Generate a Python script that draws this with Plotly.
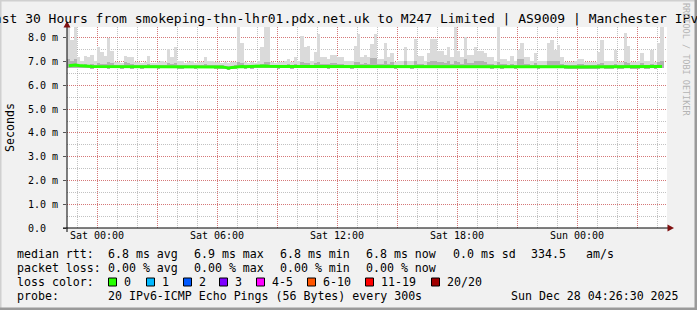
import plotly.graph_objects as go
import pandas as pd

# ---------------- data ----------------
start_time = "2025-12-26 22:30:00"
end_time = "2025-12-28 04:30:00"
step_minutes = 10

median_rtt = [
    6.83, 6.85, 6.86, 6.84, 6.82, 6.80, 6.81, 6.80, 6.80, 6.80,
    6.81, 6.80, 6.80, 6.79, 6.80, 6.80, 6.80, 6.81, 6.80, 6.79,
    6.80, 6.80, 6.79, 6.80, 6.81, 6.80, 6.80, 6.79, 6.80, 6.80,
    6.81, 6.80, 6.80, 6.80, 6.79, 6.80, 6.80, 6.80, 6.79, 6.80,
    6.80, 6.81, 6.80, 6.80, 6.79, 6.79, 6.78, 6.76, 6.73, 6.76,
    6.78, 6.80, 6.80, 6.79, 6.80, 6.79, 6.80, 6.80, 6.81, 6.82,
    6.81, 6.80, 6.80, 6.79, 6.80, 6.80, 6.80, 6.79, 6.80, 6.81,
    6.82, 6.81, 6.80, 6.80, 6.80, 6.81, 6.80, 6.80, 6.79, 6.80,
    6.80, 6.81, 6.80, 6.80, 6.80, 6.79, 6.80, 6.82, 6.80, 6.80,
    6.80, 6.81, 6.82, 6.80, 6.80, 6.81, 6.80, 6.80, 6.79, 6.80,
    6.80, 6.81, 6.80, 6.79, 6.81, 6.80, 6.80, 6.80, 6.80, 6.81,
    6.82, 6.81, 6.80, 6.80, 6.81, 6.80, 6.82, 6.81, 6.80, 6.81,
    6.80, 6.80, 6.81, 6.81, 6.80, 6.80, 6.80, 6.79, 6.80, 6.80,
    6.79, 6.80, 6.80, 6.80, 6.79, 6.80, 6.81, 6.80, 6.80, 6.80,
    6.80, 6.79, 6.80, 6.80, 6.81, 6.81, 6.80, 6.80, 6.80, 6.79,
    6.78, 6.78, 6.77, 6.78, 6.78, 6.78, 6.79, 6.78, 6.79, 6.79,
    6.80, 6.79, 6.79, 6.79, 6.80, 6.79, 6.79, 6.80, 6.80, 6.79,
    6.79, 6.79, 6.80, 6.79, 6.79, 6.80, 6.79, 6.80, 6.80,
]

smoke_max = [
    8.60, 7.90, 8.60, 7.20, 7.05, 7.25, 7.20, 7.30, 7.05, 7.60,
    7.40, 7.25, 8.00, 7.45, 7.00, 7.00, 6.95, 7.25, 7.20, 7.20,
    7.00, 7.00, 6.95, 7.00, 7.25, 6.95, 6.95, 7.00, 7.05, 7.00,
    7.55, 7.20, 7.60, 7.05, 7.05, 6.95, 7.00, 7.05, 6.95, 7.00,
    7.00, 7.20, 7.05, 7.05, 7.00, 7.00, 6.95, 7.00, 6.95, 7.00,
    7.00, 8.60, 7.80, 7.00, 6.95, 7.00, 6.95, 7.05, 7.60, 8.60,
    8.60, 7.00, 6.95, 7.00, 7.00, 7.05, 7.10, 7.00, 7.20, 7.05,
    8.10, 7.60, 7.65, 7.05, 7.40, 8.15, 7.20, 7.20, 7.10, 7.30,
    7.30, 7.20, 7.20, 7.05, 7.05, 7.05, 7.67, 8.15, 7.20, 7.30,
    7.20, 7.75, 8.17, 7.10, 7.10, 7.80, 7.20, 7.35, 7.00, 7.05,
    7.05, 7.60, 7.05, 7.05, 7.96, 7.25, 7.25, 7.05, 7.35, 7.95,
    7.95, 7.45, 7.45, 7.30, 7.60, 7.20, 8.60, 7.45, 7.20, 8.05,
    7.30, 7.30, 7.60, 7.45, 7.45, 7.35, 7.20, 7.20, 7.05, 8.60,
    7.10, 7.10, 7.05, 7.25, 7.05, 7.50, 7.78, 7.20, 7.20, 7.05,
    7.35, 7.05, 7.05, 7.05, 7.78, 7.90, 7.50, 7.70, 7.20, 7.00,
    7.00, 7.00, 7.05, 7.10, 7.10, 7.00, 7.00, 7.00, 7.00, 7.42,
    7.90, 7.05, 7.05, 7.05, 7.50, 7.00, 7.00, 8.20, 7.65, 7.00,
    7.00, 7.05, 7.35, 7.05, 7.05, 7.50, 7.00, 7.78, 8.60,
]

smoke_inner = [
    7.10, 7.05, 7.10, 6.92, 6.88, 6.92, 6.88, 6.92, 6.87, 6.95,
    6.92, 6.90, 7.00, 6.95, 6.87, 6.87, 6.86, 6.98, 6.95, 6.92,
    6.87, 6.87, 6.86, 6.87, 6.92, 6.86, 6.86, 6.87, 6.88, 6.87,
    6.95, 6.90, 6.95, 6.88, 6.87, 6.86, 6.87, 6.88, 6.86, 6.87,
    6.87, 6.92, 6.88, 6.88, 6.87, 6.86, 6.85, 6.83, 6.80, 6.83,
    6.86, 7.00, 6.95, 6.86, 6.86, 6.86, 6.86, 6.88, 6.92, 7.00,
    7.00, 6.87, 6.86, 6.86, 6.87, 6.88, 6.90, 6.87, 6.92, 6.88,
    6.97, 6.95, 6.95, 6.88, 6.95, 7.00, 6.92, 6.92, 6.90, 6.95,
    6.95, 6.92, 6.92, 6.88, 6.88, 6.87, 7.00, 7.00, 6.92, 6.95,
    6.92, 7.15, 7.15, 6.92, 6.92, 7.05, 6.92, 6.98, 6.87, 6.88,
    6.88, 7.05, 6.88, 6.88, 7.05, 6.92, 6.92, 6.88, 6.98, 7.05,
    7.05, 6.98, 6.98, 6.95, 7.05, 6.92, 7.05, 6.98, 6.92, 7.10,
    6.95, 6.95, 7.05, 7.05, 7.05, 6.98, 6.92, 6.92, 6.88, 7.00,
    6.90, 6.90, 6.88, 6.92, 6.88, 7.10, 7.10, 6.92, 6.92, 6.88,
    6.95, 6.88, 6.88, 6.88, 7.05, 7.05, 7.05, 7.05, 6.92, 6.87,
    6.86, 6.86, 6.87, 6.90, 6.90, 6.86, 6.86, 6.86, 6.86, 6.92,
    6.95, 6.87, 6.87, 6.87, 6.92, 6.86, 6.86, 7.00, 6.95, 6.86,
    6.86, 6.87, 6.95, 6.87, 6.87, 6.92, 6.86, 6.98, 7.05,
]

smoke_min = [
    6.74, 6.74, 6.75, 6.73, 6.72, 6.72, 6.72, 6.71, 6.72, 6.72,
    6.72, 6.72, 6.71, 6.72, 6.72, 6.72, 6.71, 6.72, 6.72, 6.71,
    6.72, 6.72, 6.71, 6.72, 6.72, 6.72, 6.72, 6.71, 6.72, 6.72,
    6.72, 6.72, 6.72, 6.71, 6.71, 6.72, 6.72, 6.72, 6.71, 6.72,
    6.72, 6.72, 6.72, 6.72, 6.71, 6.71, 6.70, 6.68, 6.66, 6.68,
    6.70, 6.72, 6.72, 6.71, 6.72, 6.71, 6.72, 6.72, 6.72, 6.73,
    6.72, 6.72, 6.72, 6.71, 6.72, 6.72, 6.72, 6.71, 6.72, 6.72,
    6.73, 6.72, 6.72, 6.72, 6.72, 6.72, 6.72, 6.72, 6.71, 6.72,
    6.72, 6.72, 6.72, 6.72, 6.72, 6.71, 6.72, 6.73, 6.72, 6.72,
    6.72, 6.72, 6.73, 6.72, 6.72, 6.72, 6.72, 6.72, 6.71, 6.72,
    6.72, 6.72, 6.72, 6.71, 6.72, 6.72, 6.72, 6.72, 6.72, 6.72,
    6.73, 6.72, 6.72, 6.72, 6.72, 6.72, 6.73, 6.72, 6.72, 6.72,
    6.72, 6.72, 6.72, 6.72, 6.72, 6.72, 6.72, 6.71, 6.72, 6.72,
    6.71, 6.72, 6.72, 6.72, 6.71, 6.72, 6.72, 6.72, 6.72, 6.72,
    6.72, 6.71, 6.72, 6.72, 6.72, 6.72, 6.72, 6.72, 6.72, 6.71,
    6.70, 6.70, 6.69, 6.70, 6.70, 6.70, 6.71, 6.70, 6.71, 6.71,
    6.72, 6.71, 6.71, 6.71, 6.72, 6.71, 6.71, 6.72, 6.72, 6.71,
    6.71, 6.71, 6.72, 6.71, 6.71, 6.72, 6.71, 6.72, 6.72,
]

y_tick_values = [0, 1, 2, 3, 4, 5, 6, 7, 8]
y_tick_labels = ["0.0\u00a0\u00a0", "1.0 m", "2.0 m", "3.0 m", "4.0 m",
                 "5.0 m", "6.0 m", "7.0 m", "8.0 m"]
x_tick_values = ["2025-12-27 00:00", "2025-12-27 03:00", "2025-12-27 06:00",
                 "2025-12-27 09:00", "2025-12-27 12:00", "2025-12-27 15:00",
                 "2025-12-27 18:00", "2025-12-27 21:00", "2025-12-28 00:00",
                 "2025-12-28 03:00"]
x_tick_labels = ["Sat 00:00", "", "Sat 06:00", "", "Sat 12:00", "",
                 "Sat 18:00", "", "Sun 00:00", ""]
y_max = 8.46

title_text = "Last 30 Hours from smokeping-thn-lhr01.pdx.net.uk to M247 Limited | AS9009 | Manchester IPv6"
loss_labels = ["0", "1", "2", "3", "4-5", "6-10", "11-19", "20/20"]
loss_colors = ["#26ff00", "#00b8ff", "#0059ff", "#7e00ff", "#ff00ff",
               "#ff5500", "#ff0000", "#a10000"]

assert len(median_rtt) == len(smoke_max) == len(smoke_inner) == len(smoke_min)

# ---------------- figure ----------------
n = len(median_rtt)
t0 = pd.Timestamp(start_time)
times = [t0 + pd.Timedelta(minutes=step_minutes * i + step_minutes / 2) for i in range(n)]
bar_w = step_minutes * 60 * 1000

MONO = "DejaVu Sans Mono"
L, R, T, B = 67, 667, 27, 228
W, H = R - L, B - T


def fx(px):
    return (px - L) / W


def fy(py):
    return (B - py) / H


fig = go.Figure()
fig.add_trace(go.Bar(x=times, y=[a - b for a, b in zip(smoke_max, smoke_min)],
                     base=smoke_min, width=bar_w,
                     marker=dict(color="#dadada", line=dict(width=0)),
                     hoverinfo="skip"))
fig.add_trace(go.Bar(x=times, y=[a - b for a, b in zip(smoke_inner, smoke_min)],
                     base=smoke_min, width=bar_w,
                     marker=dict(color="#b3b3b3", line=dict(width=0)),
                     hoverinfo="skip"))
fig.add_trace(go.Scatter(x=times, y=median_rtt, mode="lines",
                         line=dict(color="#26ff00", width=3), hoverinfo="skip"))

major_grid = "rgba(230,60,60,0.55)"
minor_grid = "rgba(120,120,120,0.45)"

fig.update_layout(
    width=697, height=310,
    margin=dict(l=L, r=697 - R, t=T, b=310 - B, autoexpand=False),
    paper_bgcolor="#f1f1f1", plot_bgcolor="#ffffff",
    showlegend=False, barmode="overlay", bargap=0,
    font=dict(family=MONO, color="#000000"),
    xaxis=dict(type="date", range=[start_time, end_time],
               tickvals=x_tick_values, ticktext=x_tick_labels,
               showgrid=True, gridcolor=major_grid, griddash="1px,1px", gridwidth=1,
               minor=dict(dtick=3600000, tick0="2025-12-27 00:00", showgrid=True,
                          gridcolor=minor_grid, griddash="1px,1px", gridwidth=1),
               zeroline=False, showline=False, ticks="",
               tickfont=dict(family=MONO, size=10, color="#000000"),
               tickangle=0, fixedrange=True),
    yaxis=dict(range=[0, y_max], tickvals=y_tick_values, ticktext=y_tick_labels,
               showgrid=True, gridcolor=major_grid, griddash="1px,1px", gridwidth=1,
               minor=dict(dtick=0.5, tick0=0, showgrid=True,
                          gridcolor=minor_grid, griddash="1px,1px", gridwidth=1),
               zeroline=False, showline=False, ticks="outside", ticklen=3,
               tickcolor="#555555", ticklabelstandoff=3,
               tickfont=dict(family=MONO, size=10, color="#000000"), fixedrange=True),
)

shapes = []
# axis lines
shapes.append(dict(type="line", xref="paper", yref="paper",
                   x0=fx(63), x1=fx(668), y0=fy(228), y1=fy(228),
                   line=dict(color="#000000", width=1)))
shapes.append(dict(type="line", xref="paper", yref="paper",
                   x0=fx(67), x1=fx(67), y0=fy(232), y1=fy(27),
                   line=dict(color="#000000", width=1)))
# arrows
shapes.append(dict(type="path", xref="paper", yref="paper",
                   path="M %f %f L %f %f L %f %f Z" % (fx(63.5), fy(27.5), fx(70.5), fy(27.5), fx(67), fy(21)),
                   fillcolor="#7f1010", line=dict(width=0)))
shapes.append(dict(type="path", xref="paper", yref="paper",
                   path="M %f %f L %f %f L %f %f Z" % (fx(667.5), fy(224.5), fx(667.5), fy(231.5), fx(674), fy(228)),
                   fillcolor="#7f1010", line=dict(width=0)))
# loss colour boxes
box_x = [108, 146, 183, 219, 256, 307, 365, 431]
for bx, col in zip(box_x, loss_colors):
    shapes.append(dict(type="rect", xref="paper", yref="paper",
                       x0=fx(bx + 0.5), x1=fx(bx + 8.5), y0=fy(278), y1=fy(286),
                       fillcolor=col, line=dict(color="#000000", width=1)))
# frame shading
shapes.append(dict(type="rect", xref="paper", yref="paper", x0=fx(0), x1=fx(697), y0=fy(0), y1=fy(1.5),
                   fillcolor="#d0d0d0", line=dict(width=0)))
shapes.append(dict(type="rect", xref="paper", yref="paper", x0=fx(0), x1=fx(1.5), y0=fy(0), y1=fy(310),
                   fillcolor="#d0d0d0", line=dict(width=0)))
shapes.append(dict(type="rect", xref="paper", yref="paper", x0=fx(694.5), x1=fx(697), y0=fy(0), y1=fy(310),
                   fillcolor="#9a9a9a", line=dict(width=0)))
shapes.append(dict(type="rect", xref="paper", yref="paper", x0=fx(0), x1=fx(697), y0=fy(307.5), y1=fy(310),
                   fillcolor="#9a9a9a", line=dict(width=0)))
fig.update_layout(shapes=shapes)

ann = []


def text(px, py, s, size=11.6, anchor="left", color="#000000", angle=0):
    ann.append(dict(xref="paper", yref="paper", x=fx(px), y=fy(py),
                    text=s.replace(" ", "\u00a0"), showarrow=False,
                    xanchor=anchor, yanchor="middle", borderpad=0, textangle=angle,
                    font=dict(family=MONO, size=size, color=color)))


text(346, 19, title_text, size=13, anchor="center")
text(10, 128, "Seconds", size=11.6, anchor="center", angle=-90)
text(686, 59, "RRDTOOL / TOBI OETIKER", size=8.5, anchor="center", color="#b4b4b4", angle=90)

line1 = [(16, "median rtt:"), (107, "6.8 ms avg"), (193, "6.9 ms max"), (279, "6.8 ms min"),
         (365, "6.8 ms now"), (451.5, "0.0 ms sd"), (530, "334.5"), (585, "am/s")]
line2 = [(16, "packet loss:"), (107, "0.00 % avg"), (193, "0.00 % max"),
         (279, "0.00 % min"), (365, "0.00 % now")]
for px, s in line1:
    text(px, 254, s)
for px, s in line2:
    text(px, 268, s)
text(16, 282, "loss color:")
for bx, lab in zip(box_x, loss_labels):
    text(bx + 15, 282, lab)
text(16, 296, "probe:")
text(107, 296, "20 IPv6-ICMP Echo Pings (56 Bytes) every 300s")
text(680, 296, "Sun Dec 28 04:26:30 2025", anchor="right")

fig.update_layout(annotations=ann)
fig.write_html("out.html")
